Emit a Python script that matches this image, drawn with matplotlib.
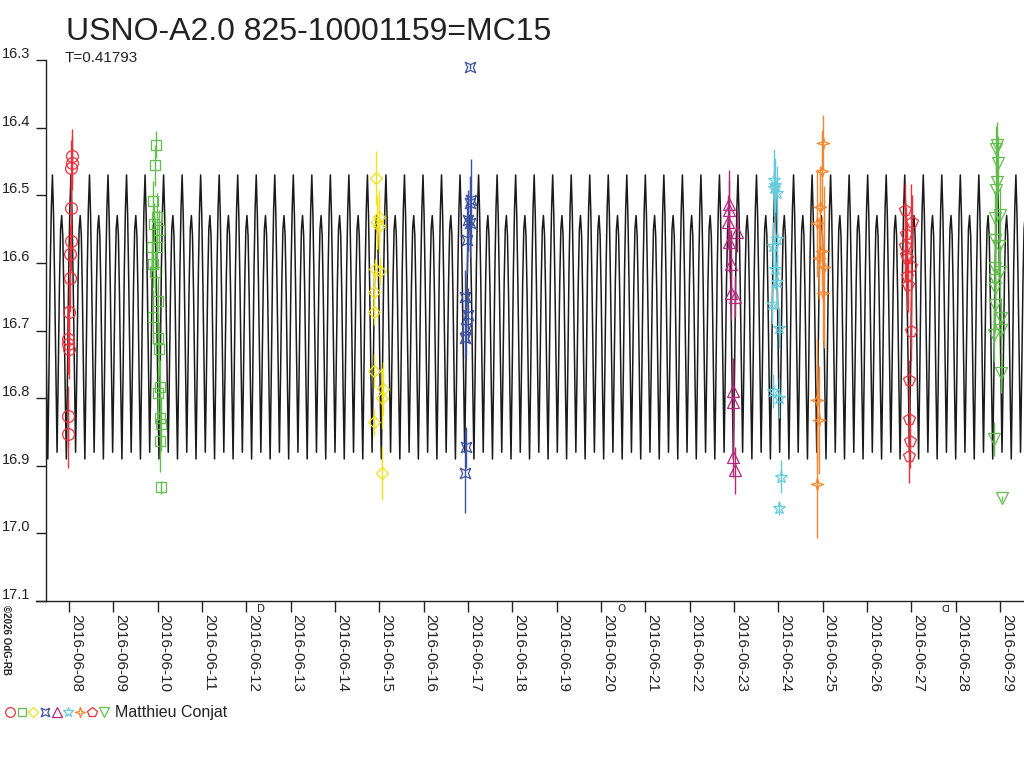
import numpy as np
import matplotlib
matplotlib.use('Agg')
import matplotlib.pyplot as plt
from matplotlib.lines import Line2D
from matplotlib.legend_handler import HandlerTuple
from matplotlib.transforms import blended_transform_factory, offset_copy

plt.rcParams['font.family'] = ['Liberation Sans', 'DejaVu Sans']

title = 'USNO-A2.0 825-10001159=MC15'
period = 0.41793
observer = 'Matthieu Conjat'
credit = '\u00a92026 OdG-RB'

# model light curve: one cycle, phase 0 = brighter maximum
epoch = 7.625  # days of June 2016
cycle_phase = [0.00, 0.06, 0.12, 0.19, 0.25, 0.31, 0.38, 0.44,
               0.50, 0.56, 0.62, 0.69, 0.75, 0.81, 0.88, 0.94]
cycle_mag = [16.47, 16.53, 16.63, 16.77, 16.88, 16.77, 16.63, 16.55,
             16.53, 16.56, 16.65, 16.79, 16.89, 16.77, 16.61, 16.52]

# observations (time in days of June 2016 UT, magnitude, error)
n1_t = [8.061, 8.061, 8.045, 8.045, 8.045, 8.029, 8.016, 8.000, 7.984, 7.984, 8.000, 7.984, 7.971]
n1_m = [16.442, 16.452, 16.459, 16.519, 16.567, 16.587, 16.622, 16.673, 16.712, 16.720, 16.727, 16.827, 16.853]
n1_e = [0.040, 0.040, 0.040, 0.045, 0.045, 0.045, 0.050, 0.050, 0.050, 0.045, 0.045, 0.045, 0.050]

n2_t = [9.956, 9.940, 9.895, 9.985, 9.924, 10.030, 9.866, 9.985, 9.895, 9.940,
        10.001, 9.895, 10.014, 10.030, 10.059, 10.014, 10.046, 10.075, 10.046, 10.075]
n2_m = [16.425, 16.456, 16.509, 16.532, 16.542, 16.552, 16.577, 16.577, 16.602, 16.614,
        16.656, 16.680, 16.711, 16.728, 16.784, 16.793, 16.830, 16.838, 16.864, 16.932]
n2_e = [0.020, 0.030, 0.030, 0.035, 0.030, 0.030, 0.035, 0.030, 0.035, 0.030,
        0.035, 0.040, 0.035, 0.040, 0.040, 0.040, 0.035, 0.040, 0.045, 0.010]

n3_t = [14.932, 14.993, 14.948, 14.993, 14.903, 15.022, 14.887, 14.887, 14.873, 15.083, 15.054, 14.873, 15.054]
n3_m = [16.475, 16.532, 16.540, 16.546, 16.609, 16.612, 16.643, 16.672, 16.760, 16.787, 16.800, 16.836, 16.911]
n3_e = [0.040, 0.040, 0.040, 0.040, 0.015, 0.020, 0.030, 0.020, 0.025, 0.040, 0.045, 0.020, 0.040]

n4_t = [17.046, 17.062, 17.046, 17.001, 17.046, 16.971, 16.940, 17.001, 16.956, 16.940, 16.956, 16.940]
n4_m = [16.310, 16.507, 16.512, 16.537, 16.541, 16.566, 16.651, 16.677, 16.697, 16.711, 16.873, 16.910]
n4_e = [0.004, 0.060, 0.040, 0.045, 0.050, 0.050, 0.040, 0.040, 0.040, 0.030, 0.030, 0.060]

n5_t = [22.882, 22.896, 22.866, 23.062, 22.896, 22.940, 22.927, 23.030, 22.985, 22.971, 22.985, 23.017]
n5_m = [16.513, 16.522, 16.539, 16.554, 16.569, 16.601, 16.644, 16.650, 16.790, 16.806, 16.887, 16.907]
n5_e = [0.050, 0.045, 0.040, 0.030, 0.045, 0.050, 0.040, 0.030, 0.050, 0.055, 0.030, 0.035]

n6_t = [23.904, 23.933, 23.904, 23.978, 23.978, 23.874, 23.933, 23.978, 23.858, 24.009, 23.874, 24.009, 24.054, 24.023]
n6_m = [16.477, 16.485, 16.490, 16.497, 16.564, 16.575, 16.609, 16.628, 16.661, 16.696, 16.789, 16.800, 16.916, 16.963]
n6_e = [0.045, 0.040, 0.040, 0.040, 0.040, 0.035, 0.030, 0.040, 0.030, 0.030, 0.025, 0.030, 0.025, 0.010]

n7_t = [25.015, 24.986, 24.941, 24.880, 24.986, 24.925, 25.031, 25.002, 24.880, 24.912, 24.867]
n7_m = [16.422, 16.464, 16.517, 16.541, 16.582, 16.593, 16.606, 16.645, 16.803, 16.832, 16.927]
n7_e = [0.040, 0.060, 0.060, 0.080, 0.050, 0.060, 0.120, 0.070, 0.090, 0.080, 0.080]

n8_t = [26.865, 27.016, 26.881, 26.852, 26.881, 26.896, 26.999, 26.910, 26.926, 26.987, 26.941, 26.941, 26.970, 26.955]
n8_m = [16.522, 16.539, 16.558, 16.575, 16.588, 16.593, 16.604, 16.620, 16.633, 16.700, 16.773, 16.831, 16.863, 16.885]
n8_e = [0.040, 0.040, 0.040, 0.050, 0.050, 0.050, 0.120, 0.050, 0.040, 0.045, 0.030, 0.030, 0.040, 0.040]

n9_t = [28.927, 28.912, 28.957, 28.927, 28.912, 29.002, 28.882, 28.882, 28.986, 28.882,
        29.002, 28.896, 28.896, 28.882, 29.031, 29.017, 28.866, 29.031, 28.866, 29.046]
n9_m = [16.426, 16.432, 16.453, 16.481, 16.492, 16.529, 16.534, 16.566, 16.575, 16.608,
        16.614, 16.625, 16.637, 16.663, 16.682, 16.699, 16.707, 16.763, 16.860, 16.948]
n9_e = [0.035, 0.035, 0.040, 0.040, 0.040, 0.040, 0.040, 0.040, 0.040, 0.040,
        0.040, 0.040, 0.040, 0.040, 0.030, 0.030, 0.040, 0.030, 0.025, 0.004]

# moon phases (first quarter, full, last quarter)
moon_days = [12.34, 20.46, 27.76]
moon_marks = ['D', 'O', '\u15e1']

tick_days = list(range(8, 30))
tick_labels = ['2016-06-%02d' % d for d in tick_days]
mag_ticks = [16.3, 16.4, 16.5, 16.6, 16.7, 16.8, 16.9, 17.0, 17.1]

# custom marker shapes
quad_star = [(1, 1), (0, 0.55), (-1, 1), (-0.55, 0), (-1, -1), (0, -0.55), (1, -1), (0.55, 0), (1, 1)]
cross_star = [(0, 1), (0.22, 0.22), (1, 0), (0.22, -0.22), (0, -1), (-0.22, -0.22), (-1, 0), (-0.22, 0.22), (0, 1)]

nights = [
    (n1_t, n1_m, n1_e, 'o', 8.5, '#e8323c'),
    (n2_t, n2_m, n2_e, 's', 6.5, '#62bd4c'),
    (n3_t, n3_m, n3_e, 'D', 6.3, '#f2e21a'),
    (n4_t, n4_m, n4_e, quad_star, 7.5, '#3c52a3'),
    (n5_t, n5_m, n5_e, '^', 8.0, '#b3287a'),
    (n6_t, n6_m, n6_e, '*', 9.5, '#64cbdc'),
    (n7_t, n7_m, n7_e, cross_star, 9.0, '#f7852b'),
    (n8_t, n8_m, n8_e, 'p', 8.5, '#e8303a'),
    (n9_t, n9_m, n9_e, 'v', 8.0, '#62bd4c'),
]

ink = '#222222'
fig = plt.figure(figsize=(10.24, 7.68), dpi=100)
ax = fig.add_axes([46 / 1024, 1 - 601 / 768, 978 / 1024, 541 / 768])
x0, x1 = 7.48, 29.54
ax.set_xlim(x0, x1)
ax.set_ylim(17.1, 16.3)

# model curve, repeated with the period
k0 = int(np.floor((x0 - epoch) / period)) - 1
k1 = int(np.ceil((x1 - epoch) / period)) + 1
ph = np.array(cycle_phase)
mg = np.array(cycle_mag)
curve_t = np.concatenate([epoch + (k + ph) * period for k in range(k0, k1)])
curve_m = np.tile(mg, k1 - k0)
ax.plot(curve_t, curve_m, color='#1a1a1a', lw=1.1, zorder=1)

handles = []
for t, m, e, mk, ms, col in nights:
    ax.errorbar(t, m, yerr=e, fmt='none', ecolor=col, elinewidth=1.0, capsize=0, zorder=2)
    ax.plot(t, m, linestyle='none', marker=mk, ms=ms, mfc='none', mec=col, mew=0.9, zorder=3)
    handles.append(Line2D([], [], linestyle='none', marker=mk, ms=ms * 0.82, mfc='none', mec=col, mew=0.9))

# axes styling
for s in ['top', 'right']:
    ax.spines[s].set_visible(False)
for s in ['left', 'bottom']:
    ax.spines[s].set_color(ink)
    ax.spines[s].set_linewidth(1.0)
ax.plot([-10 / 978, 0], [0, 0], transform=ax.transAxes, color=ink, lw=1.0, clip_on=False)

ax.set_yticks(mag_ticks)
ax.set_yticklabels([''] * len(mag_ticks))
ax.tick_params(axis='y', direction='out', length=7, width=1.0, color=ink)
lab_tr = offset_copy(blended_transform_factory(fig.transFigure, ax.transData), fig=fig, x=0, y=2, units='dots')
for v in mag_ticks:
    ax.text(2 / 1024, v, '%.1f' % v, transform=lab_tr, ha='left', va='baseline',
            fontsize=10.5, color=ink)

ax.set_xticks(tick_days)
ax.set_xticklabels(tick_labels, rotation=270, ha='left', va='top', fontsize=11, color=ink)
ax.tick_params(axis='x', direction='out', length=8, width=1.0, color=ink, pad=1)

moon_tr = offset_copy(blended_transform_factory(ax.transData, ax.transAxes), fig=fig, x=0, y=-8, units='dots')
for d, s in zip(moon_days, moon_marks):
    ax.text(d, 0, s, transform=moon_tr, ha='center', va='center', fontsize=7.5, color=ink,
            family=['DejaVu Sans'])

fig.text(66 / 1024, 1 - 40 / 768, title, fontsize=23, color=ink, ha='left', va='baseline')
fig.text(65 / 1024, 1 - 62 / 768, 'T=%.5f' % period, fontsize=11, color=ink, ha='left', va='baseline')
fig.text(1 / 1024, 1 - 605 / 768, credit, rotation=270, fontsize=7, fontweight='bold',
         color=ink, ha='left', va='top')

fig.legend([tuple(handles)], [observer], handler_map={tuple: HandlerTuple(ndivide=None, pad=0.0)},
           loc='center left', bbox_to_anchor=(4 / 1024, 1 - 713 / 768), frameon=False,
           handlelength=6.6, handletextpad=0.35, borderpad=0, borderaxespad=0,
           fontsize=11.5, labelcolor=ink)

fig.savefig('out.png', dpi=100)
